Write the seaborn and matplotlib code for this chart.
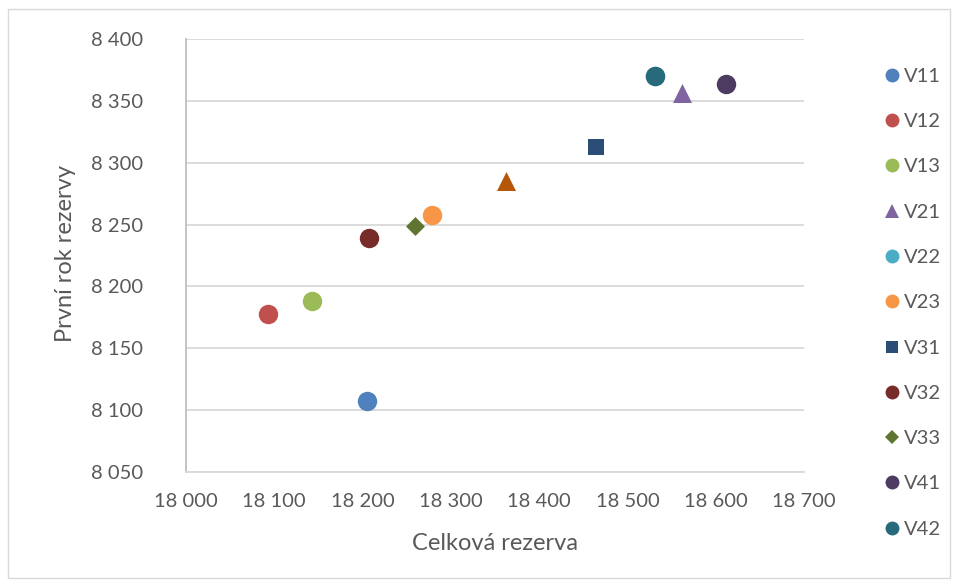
import matplotlib
matplotlib.use("Agg")
import matplotlib.pyplot as plt
from matplotlib.lines import Line2D
from matplotlib.patches import Rectangle
from matplotlib.ticker import FuncFormatter, MultipleLocator
import seaborn as sns
import pandas as pd

# Scenario names, their total reserve and first-year reserve
series = ["V11", "V12", "V13", "V21", "V22", "V23", "V31", "V32", "V33", "V41", "V42", "V43"]
celkova = [18205, 18093, 18143, 18562, 18531, 18279, 18464, 18207, 18259, 18612, 18531, 18362]
prvni = [8107, 8178, 8188, 8356, 8370, 8258, 8313, 8239, 8249, 8364, 8370, 8285]
legend_series = ["V11", "V12", "V13", "V21", "V22", "V23", "V31", "V32", "V33", "V41", "V42"]

colors = {
    "V11": "#4F81BD", "V12": "#C0504D", "V13": "#9BBB59", "V21": "#8064A2",
    "V22": "#4BACC6", "V23": "#F79646", "V31": "#2C4D75", "V32": "#772C2A",
    "V33": "#5F7530", "V41": "#4D3B62", "V42": "#276A7C", "V43": "#B65708",
}
markers = {
    "V11": "o", "V12": "o", "V13": "o", "V21": "^", "V22": "o", "V23": "o",
    "V31": "s", "V32": "o", "V33": "D", "V41": "o", "V42": "o", "V43": "^",
}
sizes = {"o": 196, "^": 187, "s": 144, "D": 93}

df = pd.DataFrame({"serie": series, "celkova": celkova, "prvni": prvni})

sns.set_theme(style="white")
plt.rcParams["font.family"] = ["Lato", "DejaVu Sans"]

fig = plt.figure(figsize=(9.57, 5.84), dpi=100)
ax = fig.add_axes([186 / 957, 1 - 472 / 584, 618 / 957, 433 / 584])

# Chart-area frame
fig.patches.append(Rectangle((8 / 957, 6 / 584), 942 / 957, 569 / 584,
                             transform=fig.transFigure, fill=False,
                             edgecolor="#D9D9D9", linewidth=1.0))

for s in series:
    sub = df[df["serie"] == s]
    m = markers[s]
    sns.scatterplot(data=sub, x="celkova", y="prvni", ax=ax, color=colors[s],
                    marker=m, s=sizes[m], linewidth=0, legend=False, zorder=3)

ax.set_xlim(18000, 18700)
ax.set_ylim(8050, 8400)
ax.xaxis.set_major_locator(MultipleLocator(100))
ax.yaxis.set_major_locator(MultipleLocator(50))
fmt = FuncFormatter(lambda v, p: f"{v:,.0f}".replace(",", " "))
ax.xaxis.set_major_formatter(fmt)
ax.yaxis.set_major_formatter(fmt)

ax.grid(axis="y", color="#D9D9D9", linewidth=1.3)
ax.grid(axis="x", visible=False)
ax.set_axisbelow(True)
for side in ["top", "right"]:
    ax.spines[side].set_visible(False)
ax.spines["left"].set_color("#BFBFBF")
ax.spines["bottom"].set_color("#D9D9D9")
ax.spines["left"].set_linewidth(1.3)
ax.spines["bottom"].set_linewidth(1.3)

ax.tick_params(axis="y", length=0, pad=31, labelsize=14.5, labelcolor="#595959")
ax.tick_params(axis="x", length=0, pad=15, labelsize=14.5, labelcolor="#595959")

ax.set_xlabel("Celková rezerva", fontsize=17, color="#595959", va="center")
ax.set_ylabel("První rok rezervy", fontsize=17, color="#595959", va="center")
ax.xaxis.set_label_coords(0.5, (472 - 543) / 433)
ax.yaxis.set_label_coords((65 - 186) / 618, (472 - 253) / 433)

handles = [Line2D([0], [0], linestyle="none", marker=markers[s],
                  markersize=10 if markers[s] in ("o", "^") else (8.5 if markers[s] == "s" else 7.5),
                  markerfacecolor=colors[s], markeredgewidth=0, label=s)
           for s in legend_series]
leg = fig.legend(handles=handles, loc="upper left", bbox_to_anchor=(0.922, 0.884),
                 frameon=False, fontsize=14.5, labelspacing=1.4, handletextpad=0.05,
                 handlelength=1.0, borderaxespad=0, borderpad=0)
for t in leg.get_texts():
    t.set_color("#595959")

fig.savefig("out.png", dpi=100, facecolor="white")
